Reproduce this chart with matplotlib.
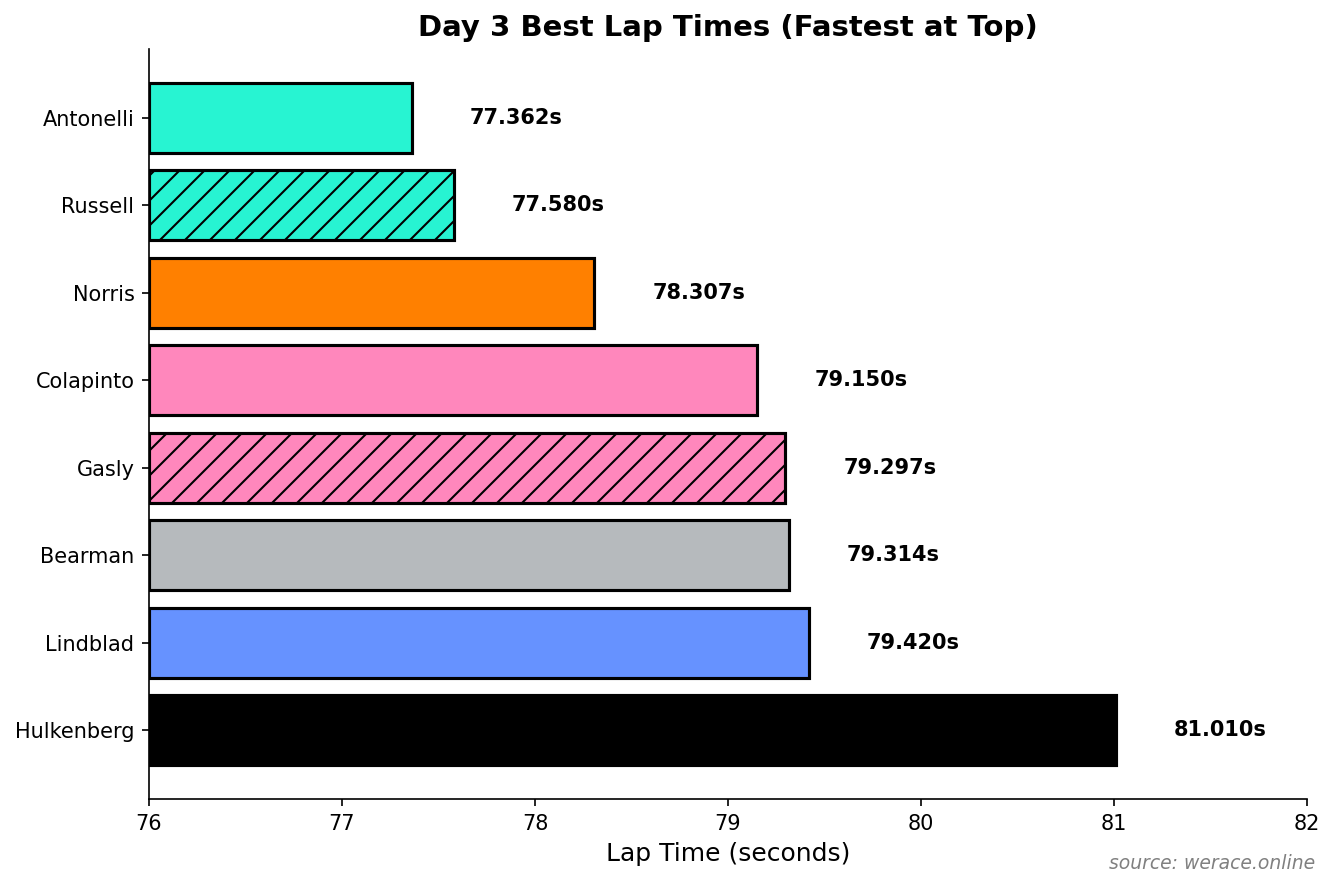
import matplotlib.pyplot as plt

# data, fastest first
drivers = ['Antonelli', 'Russell', 'Norris', 'Colapinto', 'Gasly', 'Bearman', 'Lindblad', 'Hulkenberg']
lap_times = [77.362, 77.580, 78.307, 79.150, 79.297, 79.314, 79.420, 81.010]
colors = ['#27F4D2', '#27F4D2', '#FF8000', '#FF87BC', '#FF87BC', '#B6BABD', '#6692FF', '#000000']
hatches = ['', '//', '', '', '//', '', '', '']

base = 76.0

fig, ax = plt.subplots(figsize=(8.9, 5.927), dpi=150)

bars = ax.barh(drivers, [t - base for t in lap_times], left=base, height=0.8,
               color=colors, edgecolor='black', linewidth=1.5)
for b, h in zip(bars, hatches):
    b.set_hatch(h)

for i, t in enumerate(lap_times):
    ax.text(t + 0.3, i, f'{t:.3f}s', va='center', ha='left',
            fontsize=10, fontweight='bold')

ax.invert_yaxis()
ax.set_xlim(76, 82)
ax.set_xlabel('Lap Time (seconds)', fontsize=12)
ax.set_title('Day 3 Best Lap Times (Fastest at Top)', fontsize=14, fontweight='bold')
ax.spines['top'].set_visible(False)
ax.spines['right'].set_visible(False)

fig.text(0.985, 0.018, 'source: werace.online', ha='right', va='bottom',
         fontsize=9, style='italic', color='gray')

fig.subplots_adjust(left=0.1116, right=0.979, top=0.945, bottom=0.101)
fig.savefig('out.png', dpi=150)
